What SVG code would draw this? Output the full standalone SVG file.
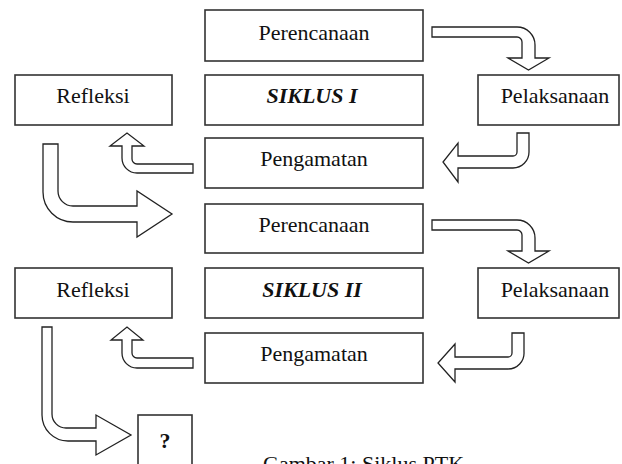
<svg xmlns="http://www.w3.org/2000/svg" width="622" height="464" viewBox="0 0 622 464">
<style>
.box{fill:#fff;stroke:#333;stroke-width:1.6}
.arr{fill:#fff;stroke:#222;stroke-width:1.3;stroke-linejoin:miter}
.t{font-family:"Liberation Serif","Times New Roman",serif;font-size:22px;fill:#111;text-anchor:middle}
.b{font-weight:bold;font-style:italic}
</style>
<rect width="622" height="464" fill="#fff"/>
<g id="connectors">
<path class="arr" d="M432,27 H517 A18,18 0 0 1 535,45 V58 H549 L528.5,70 L508,58 H522 V42 A5,5 0 0 0 517,37 H432 Z"/>
<path class="arr" d="M517,133 H529 V152 A16,16 0 0 1 513,168 H458 V182 L443,162 L458,143 V156 H513 A4,4 0 0 0 517,152 Z"/>
<path class="arr" d="M193,164 V173 H137 A15,15 0 0 1 122,158 V146 H110 L127,133 L144,146 H132 V159 A5,5 0 0 0 137,164 Z"/>
<path class="arr" d="M43,144 H58 V191 A15,15 0 0 0 73,206 H137 V191 L172,214 L137,237 V222 H73 A30,30 0 0 1 43,192 Z"/>
<path class="arr" d="M432,220 H517 A18,18 0 0 1 535,238 V251 H549 L528.5,263 L508,251 H522 V235 A5,5 0 0 0 517,230 H432 Z"/>
<path class="arr" d="M512,333 H524 V352 A16,16 0 0 1 508,369 H455 V382 L438,363 L455,344 V357 H508 A4,4 0 0 0 512,353 Z"/>
<path class="arr" d="M193,358 V368 H137 A15,15 0 0 1 122,353 V340 H111 L127,327 L143,340 H132 V353 A5,5 0 0 0 137,358 Z"/>
<path class="arr" d="M42,327 H52 V414 A14,14 0 0 0 66,428 H96 V415 L131,435 L96,455 V441 H68 A26,26 0 0 1 42,415 Z"/>
</g>
<g id="perencanaan1"><rect class="box" x="205" y="10" width="218" height="51"/><text class="t" x="314" y="40">Perencanaan</text></g>
<g id="siklus1"><rect class="box" x="205" y="75" width="218" height="50"/><text class="t b" x="312" y="103">SIKLUS I</text></g>
<g id="pengamatan1"><rect class="box" x="205" y="138" width="218" height="50"/><text class="t" x="314" y="166">Pengamatan</text></g>
<g id="pelaksanaan1"><rect class="box" x="478" y="75" width="141" height="50"/><text class="t" x="555" y="103">Pelaksanaan</text></g>
<g id="refleksi1"><rect class="box" x="15" y="75" width="157" height="50"/><text class="t" x="93" y="103">Refleksi</text></g>
<g id="perencanaan2"><rect class="box" x="205" y="204" width="218" height="49"/><text class="t" x="314" y="232">Perencanaan</text></g>
<g id="siklus2"><rect class="box" x="205" y="268" width="218" height="50"/><text class="t b" x="312" y="297">SIKLUS II</text></g>
<g id="pengamatan2"><rect class="box" x="205" y="333" width="218" height="50"/><text class="t" x="314" y="361">Pengamatan</text></g>
<g id="pelaksanaan2"><rect class="box" x="478" y="268" width="141" height="50"/><text class="t" x="555" y="297">Pelaksanaan</text></g>
<g id="refleksi2"><rect class="box" x="15" y="268" width="157" height="50"/><text class="t" x="93" y="297">Refleksi</text></g>
<g id="question"><rect class="box" x="138" y="415" width="54" height="52"/><text class="t" x="165" y="448" font-weight="bold">?</text></g>
<text class="t" x="263" y="471" style="text-anchor:start">Gambar 1: Siklus PTK</text>
</svg>
